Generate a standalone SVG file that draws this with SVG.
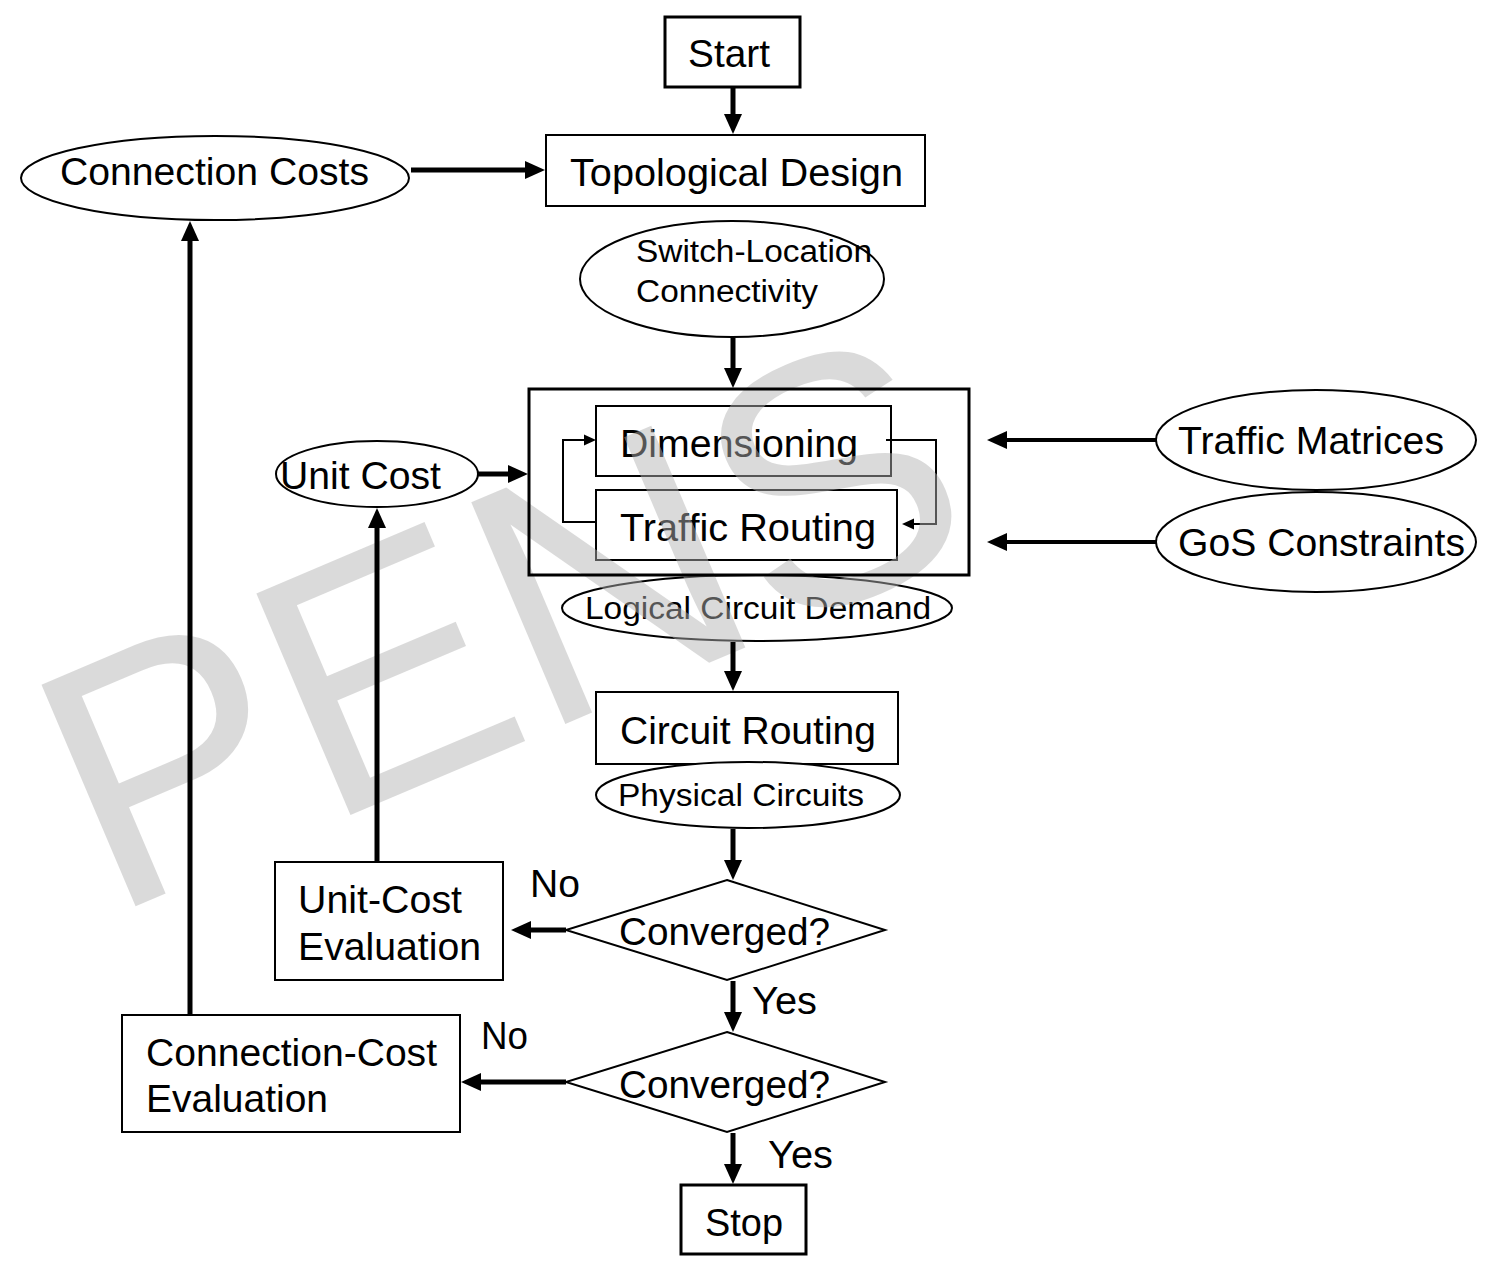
<svg xmlns="http://www.w3.org/2000/svg" width="1485" height="1262" viewBox="0 0 1485 1262">
<style>
.box{fill:#fff;stroke:#000;stroke-width:2}
.ell{fill:#fff;stroke:#000;stroke-width:2}
.t{font-family:"Liberation Sans",Arial,sans-serif;fill:#000;font-size:39px}
.s{font-size:31px}
.c{stroke:#000;fill:none}
.w5{stroke-width:5}
.w4{stroke-width:4}
.w2{stroke-width:2}
</style>
<defs>
<marker id="ah" viewBox="0 -10 20 20" markerUnits="userSpaceOnUse" markerWidth="20" markerHeight="20" refX="0" refY="0" orient="auto"><path d="M0,-9 L20,0 L0,9 z" fill="#000"/></marker>
<marker id="as" viewBox="0 -6 12 12" markerUnits="userSpaceOnUse" markerWidth="12" markerHeight="12" refX="0" refY="0" orient="auto"><path d="M0,-5.5 L12,0 L0,5.5 z" fill="#000"/></marker>
</defs>
<rect width="1485" height="1262" fill="#fff"/>

<g id="start"><rect class="box" x="665" y="17" width="135" height="70" style="stroke-width:3"/><text class="t" x="688" y="67" textLength="82" lengthAdjust="spacingAndGlyphs">Start</text></g>
<g id="topological-design"><rect class="box" x="546" y="135" width="379" height="71"/><text class="t" x="570" y="186" textLength="333" lengthAdjust="spacingAndGlyphs">Topological Design</text></g>
<g id="connection-costs"><ellipse class="ell" cx="215" cy="178" rx="194" ry="42"/><text class="t" x="60" y="185" textLength="309" lengthAdjust="spacingAndGlyphs">Connection Costs</text></g>
<g id="switch-location"><ellipse class="ell" cx="732" cy="279" rx="152" ry="58"/><text class="t s" x="636" y="262" textLength="236" lengthAdjust="spacingAndGlyphs">Switch-Location</text><text class="t s" x="636" y="302" textLength="182" lengthAdjust="spacingAndGlyphs">Connectivity</text></g>
<g id="dimensioning"><rect class="box" x="596" y="406" width="295" height="70"/><text class="t" x="620" y="457" textLength="238" lengthAdjust="spacingAndGlyphs">Dimensioning</text></g>
<g id="traffic-routing"><rect class="box" x="596" y="490" width="301" height="70"/><text class="t" x="620" y="541" textLength="256" lengthAdjust="spacingAndGlyphs">Traffic Routing</text></g>
<g id="unit-cost"><ellipse class="ell" cx="377" cy="474" rx="101" ry="33"/><text class="t" x="280" y="489" textLength="161" lengthAdjust="spacingAndGlyphs">Unit Cost</text></g>
<g id="traffic-matrices"><ellipse class="ell" cx="1316" cy="440" rx="160" ry="50"/><text class="t" x="1178" y="454" textLength="266" lengthAdjust="spacingAndGlyphs">Traffic Matrices</text></g>
<g id="gos-constraints"><ellipse class="ell" cx="1316" cy="542" rx="160" ry="50"/><text class="t" x="1178" y="556" textLength="287" lengthAdjust="spacingAndGlyphs">GoS Constraints</text></g>
<g id="logical-circuit-demand"><ellipse class="ell" cx="757" cy="608" rx="195" ry="33"/><text class="t s" x="585" y="619" textLength="346" lengthAdjust="spacingAndGlyphs">Logical Circuit Demand</text></g>
<g id="circuit-routing"><rect class="box" x="596" y="692" width="302" height="72"/><text class="t" x="620" y="744" textLength="256" lengthAdjust="spacingAndGlyphs">Circuit Routing</text></g>
<g id="physical-circuits"><ellipse class="ell" cx="748" cy="795" rx="152" ry="33"/><text class="t s" x="618" y="806" textLength="246" lengthAdjust="spacingAndGlyphs">Physical Circuits</text></g>
<g id="converged-1"><polygon class="box" points="727,880 885,930 727,980 566,930"/><text class="t" x="619" y="945" textLength="211" lengthAdjust="spacingAndGlyphs">Converged?</text></g>
<g id="unit-cost-evaluation"><rect class="box" x="275" y="862" width="228" height="118"/><text class="t" x="298" y="913" textLength="164" lengthAdjust="spacingAndGlyphs">Unit-Cost</text><text class="t" x="298" y="960" textLength="183" lengthAdjust="spacingAndGlyphs">Evaluation</text></g>
<g id="converged-2"><polygon class="box" points="727,1032 885,1082 727,1132 566,1082"/><text class="t" x="619" y="1098" textLength="211" lengthAdjust="spacingAndGlyphs">Converged?</text></g>
<g id="connection-cost-evaluation"><rect class="box" x="122" y="1015" width="338" height="117"/><text class="t" x="146" y="1066" textLength="291" lengthAdjust="spacingAndGlyphs">Connection-Cost</text><text class="t" x="146" y="1112" textLength="182" lengthAdjust="spacingAndGlyphs">Evaluation</text></g>
<g id="stop"><rect class="box" x="681" y="1185" width="125" height="69" style="stroke-width:3"/><text class="t" x="705" y="1236" textLength="78" lengthAdjust="spacingAndGlyphs">Stop</text></g>

<g id="inner-loop">
<path class="c w2" d="M596,522 H563 V440 H584" marker-end="url(#as)"/>
<path class="c w2" d="M886,440 H936 V524 H914" marker-end="url(#as)"/>
</g>

<text id="watermark" transform="translate(134,907) rotate(-23)" x="-27" y="0" font-family="Liberation Sans,Arial,sans-serif" font-size="350" fill="#b1b1b1" fill-opacity="0.48">PENS</text>

<g id="dimensioning-group"><rect x="529" y="389" width="440" height="186" fill="none" stroke="#000" stroke-width="3"/></g>

<g id="connectors">
<line class="c w5" x1="733" y1="88" x2="733" y2="114" marker-end="url(#ah)"/>
<line class="c w5" x1="411" y1="170" x2="525" y2="170" marker-end="url(#ah)"/>
<line class="c w5" x1="733" y1="338" x2="733" y2="368" marker-end="url(#ah)"/>
<line class="c w5" x1="478" y1="474" x2="508" y2="474" marker-end="url(#ah)"/>
<line class="c w4" x1="1156" y1="440" x2="1007" y2="440" marker-end="url(#ah)"/>
<line class="c w4" x1="1156" y1="542" x2="1007" y2="542" marker-end="url(#ah)"/>
<line class="c w5" x1="733" y1="642" x2="733" y2="671" marker-end="url(#ah)"/>
<line class="c w5" x1="733" y1="829" x2="733" y2="860" marker-end="url(#ah)"/>
<line class="c w5" x1="566" y1="930" x2="531" y2="930" marker-end="url(#ah)"/>
<line class="c w5" x1="377" y1="862" x2="377" y2="528" marker-end="url(#ah)"/>
<line class="c w5" x1="733" y1="981" x2="733" y2="1012" marker-end="url(#ah)"/>
<line class="c w5" x1="566" y1="1082" x2="481" y2="1082" marker-end="url(#ah)"/>
<line class="c w5" x1="190" y1="1015" x2="190" y2="241" marker-end="url(#ah)"/>
<line class="c w5" x1="733" y1="1133" x2="733" y2="1164" marker-end="url(#ah)"/>
</g>

<g id="labels">
<text class="t" x="530" y="897" textLength="50" lengthAdjust="spacingAndGlyphs">No</text>
<text class="t" x="752" y="1014" textLength="65" lengthAdjust="spacingAndGlyphs">Yes</text>
<text class="t" x="481" y="1049" textLength="47" lengthAdjust="spacingAndGlyphs">No</text>
<text class="t" x="768" y="1168" textLength="65" lengthAdjust="spacingAndGlyphs">Yes</text>
</g>
</svg>
